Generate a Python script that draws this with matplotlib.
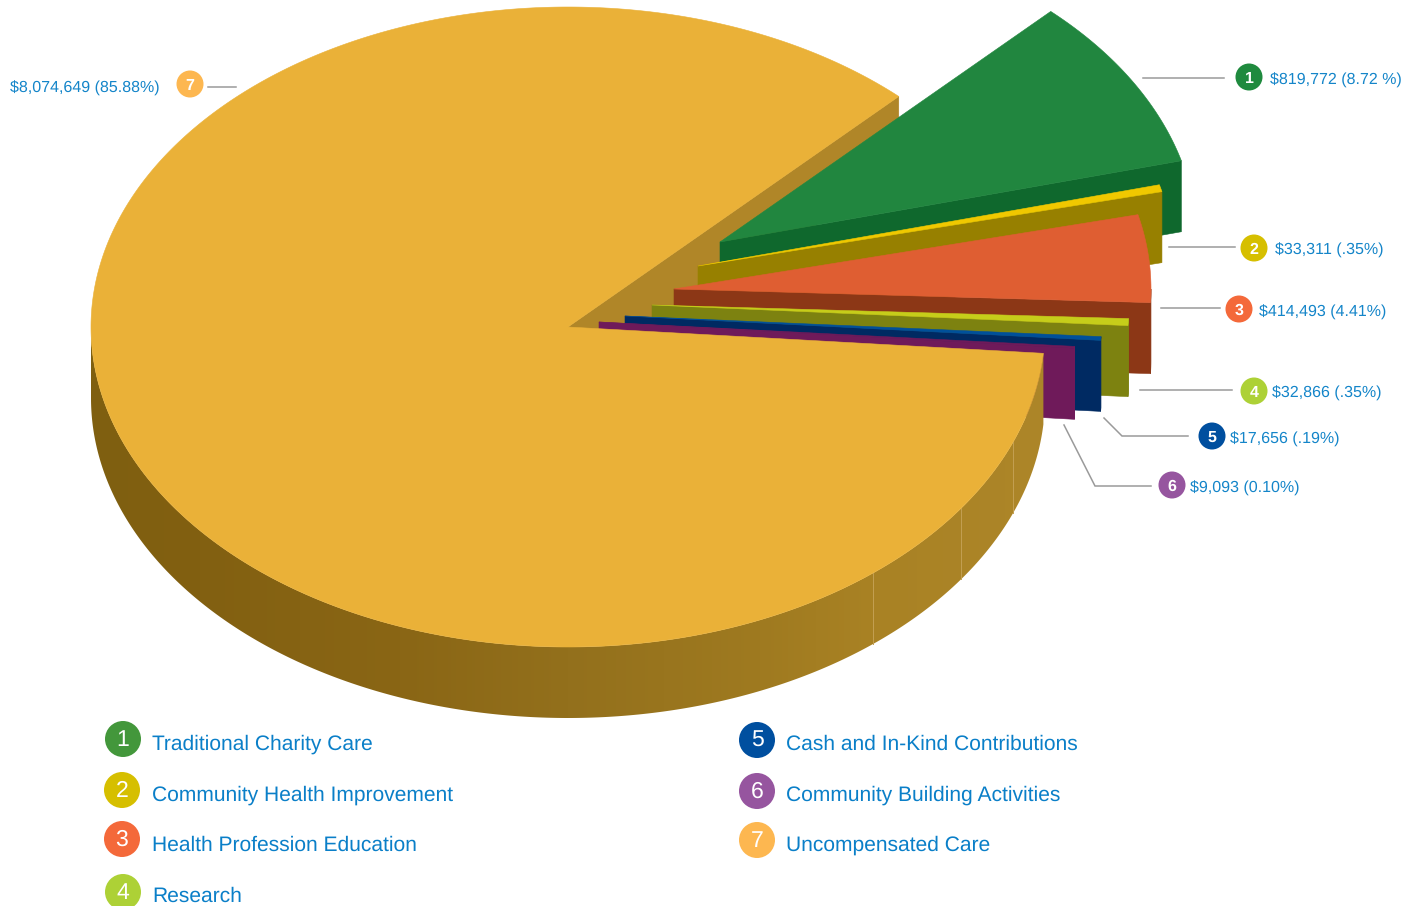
"""Pie 3D con porciones separadas, dibujado a mano con poligonos."""
import matplotlib

matplotlib.use("Agg")
import matplotlib.pyplot as plt
import numpy as np
from matplotlib.colors import to_rgb
from matplotlib.patches import Circle, Polygon

plt.rcParams["font.family"] = ["Liberation Sans", "DejaVu Sans"]
plt.rcParams["text.hinting"] = "no_hinting"
plt.rcParams["text.hinting_factor"] = 1

# datos
numbers = ["1", "2", "3", "4", "5", "6", "7"]
categories = [
    "Traditional Charity Care",
    "Community Health Improvement",
    "Health Profession Education",
    "Research",
    "Cash and In-Kind Contributions",
    "Community Building Activities",
    "Uncompensated Care",
]
values = [819772, 33311, 414493, 32866, 17656, 9093, 8074649]
value_labels = [
    "$819,772 (8.72 %)",
    "$33,311 (.35%)",
    "$414,493 (4.41%)",
    "$32,866 (.35%)",
    "$17,656 (.19%)",
    "$9,093 (0.10%)",
    "$8,074,649 (85.88%)",
]

# estilo y geometria (pixeles de la figura)
W, H = 1401, 906
CX, CY = 568, 327
RX, RY = 477, 320
DEPTH = 71
START_ANGLE = 46.1
apex = [(720, 242), (698, 266), (674, 289), (652, 305), (625, 316), (599, 322)]
top_colors = ["#21863f", "#f0c800", "#df5e32", "#c6cd1a", "#00509a", "#6f1a5a", "#eab138"]
side_colors = ["#0f682d", "#978000", "#8c3716", "#7d8210", "#002a62", "#6f1a5a"]
badge_colors = ["#1f8a3e", "#d6bf00", "#f4693a", "#add136", "#004f9f", "#96559f", "#fdb750"]
legend_colors = ["#43973b", "#d6bf00", "#f4693a", "#add136", "#004f9f", "#96559f", "#fdb750"]
TEXT_COLOR = "#1485c9"
LEGEND_TEXT = "#0a7fc8"
LINE_COLOR = "#9a9a9a"

badge_xy = [(1249, 77), (1254, 248), (1239, 309), (1254, 391), (1212, 436), (1172, 485), (190, 84)]
label_xy = [(1270, 85), (1275, 255), (1259, 317), (1272, 398), (1230, 444), (1190, 493), (160, 93)]
leaders = [
    [(1143, 78), (1224, 78)],
    [(1169, 247), (1235, 247)],
    [(1161, 308), (1220, 308)],
    [(1140, 390), (1232, 390)],
    [(1104, 418), (1122, 436), (1188, 436)],
    [(1064, 425), (1095, 486), (1151, 486)],
    [(208, 87), (236, 87)],
]
legend_circle_xy = [(123, 739), (122, 790), (122, 839), (123, 892), (757, 740), (757, 791), (757, 840)]
legend_text_xy = [(152, 750), (152, 801), (152, 851), (152, 902), (786, 750), (786, 801), (786, 851)]

wall_stop_x = [91, 200, 400, 568, 760, 873, 1050]
wall_stop_colors = ["#7f5f10", "#826011", "#8a6615", "#93701c", "#9f7a20", "#a98224", "#ad8629"]
seam_angles = [-50.3, -34.5, -21.1]


def _arc(x0, y0, a0, a1, n=2):
    t = np.radians(np.linspace(a0, a1, n))
    return np.column_stack([x0 + RX * np.cos(t), y0 - RY * np.sin(t)])


def _poly(ax, pts, color, z=1, lw=0.4):
    patch = Polygon(pts, closed=True, facecolor=color, edgecolor=color, linewidth=lw, zorder=z)
    ax.add_patch(patch)
    return patch


def _draw_slice(ax, x0, y0, a_hi, a_lo, top, side):
    # cara frontal del corte
    p = _arc(x0, y0, a_lo, a_lo)[0]
    _poly(ax, [(x0, y0), p, (p[0], p[1] + DEPTH), (x0, y0 + DEPTH)], side)
    # pared exterior, solo la parte bajo el ecuador se ve
    if a_lo < 0:
        arc = _arc(x0, y0, min(a_hi, 0), a_lo, 12)
        _poly(ax, np.vstack([arc, arc[::-1] + [0, DEPTH]]), side)
    n = max(3, int(abs(a_hi - a_lo) * 2))
    _poly(ax, np.vstack([[(x0, y0)], _arc(x0, y0, a_hi, a_lo, n)]), top)


def _wall_gradient():
    stops = np.array([to_rgb(c) for c in wall_stop_colors])
    xs = np.arange(wall_stop_x[0], wall_stop_x[-1] + 1)
    return np.dstack([np.interp(xs, wall_stop_x, stops[:, i]) for i in range(3)])


def main() -> None:
    fig = plt.figure(figsize=(W / 100, H / 100), dpi=100)
    ax = fig.add_axes([0, 0, 1, 1])

    spans = np.array(values) / sum(values) * 360
    edges = START_ANGLE - np.concatenate([[0], np.cumsum(spans[:-1])])

    # pared de la porcion grande, degradado recortado a la forma
    a_end = edges[6]
    arc = _arc(CX, CY, a_end, -180, 400)
    wall = _poly(ax, np.vstack([arc, arc[::-1] + [0, DEPTH]]), "none", z=2, lw=0)
    img = ax.imshow(_wall_gradient(), extent=(wall_stop_x[0], wall_stop_x[-1], CY + RY + DEPTH, CY - 30),
                    aspect="auto", zorder=2, interpolation="bilinear")
    img.set_clip_path(wall)

    ax.set_xlim(0, W)
    ax.set_ylim(H, 0)
    ax.axis("off")

    # cara de corte de la porcion grande, queda detras de las separadas
    p = _arc(CX, CY, START_ANGLE, START_ANGLE)[0]
    _poly(ax, [(CX, CY), p, (p[0], p[1] + DEPTH), (CX, CY + DEPTH)], "#b08628")

    for i in range(6):
        _draw_slice(ax, apex[i][0], apex[i][1], edges[i], edges[i] - spans[i], top_colors[i], side_colors[i])

    for a in seam_angles:
        q = _arc(CX, CY, a, a)[0]
        ax.plot([q[0], q[0]], [q[1], q[1] + DEPTH], color="#c39f52", lw=0.7, zorder=3)

    # tapa
    top_arc = _arc(CX, CY, START_ANGLE, START_ANGLE + spans[6], 720)
    _poly(ax, np.vstack([[(CX, CY)], top_arc]), top_colors[6], z=4)

    # etiquetas con linea guia
    for i, num in enumerate(numbers):
        xs, ys = zip(*leaders[i])
        ax.plot(xs, ys, color=LINE_COLOR, lw=1.1, zorder=5, solid_joinstyle="miter")
        bx, by = badge_xy[i]
        ax.add_patch(Circle((bx, by), 13.5, facecolor=badge_colors[i], edgecolor="none", zorder=5))
        ax.text(bx, by + 6, num, color="white", fontsize=11.7, fontweight="bold",
                ha="center", va="baseline", zorder=6)
        lx, ly = label_xy[i]
        ax.text(lx, ly, value_labels[i], color=TEXT_COLOR, fontsize=11.55,
                ha="right" if i == 6 else "left", va="baseline", zorder=6)

    # leyenda
    for i, cat in enumerate(categories):
        cx, cy = legend_circle_xy[i]
        ax.add_patch(Circle((cx, cy), 18, facecolor=legend_colors[i], edgecolor="none", zorder=5))
        ax.text(cx, cy + 7, numbers[i], color="white", fontsize=16.5,
                ha="center", va="baseline", zorder=6)
        tx, ty = legend_text_xy[i]
        ax.text(tx, ty, cat, color=LEGEND_TEXT, fontsize=15.35, ha="left", va="baseline", zorder=6)

    fig.savefig("out.png", dpi=100)
    plt.close(fig)


if __name__ == "__main__":
    main()
